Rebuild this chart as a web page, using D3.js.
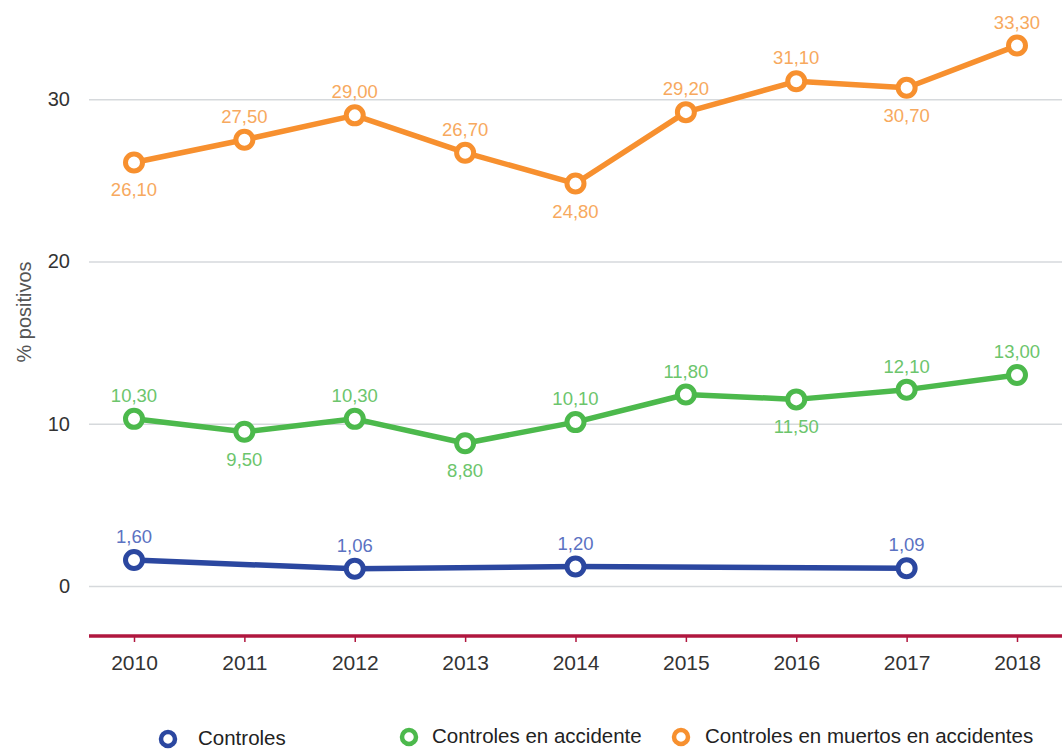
<!DOCTYPE html>
<html>
<head>
<meta charset="utf-8">
<script src="https://cdn.jsdelivr.net/npm/d3@7"></script>
<style>
  body { margin: 0; background: #fff; }
  svg { font-family: "Liberation Sans", Arial, sans-serif; }
  .grid line { stroke: #d6d9dc; stroke-width: 1.5; }
  .grid .domain { display: none; }
  .y-axis text { fill: #333; font-size: 20px; }
  .x-axis text { fill: #333; font-size: 21px; }
  .x-axis .domain { stroke: #b0173f; stroke-width: 3.5; }
  .x-axis .tick line { stroke: #b0173f; stroke-width: 1.5; }
</style>
</head>
<body>
<div id="chart-area"></div>
<script>
// data
var years = [2010, 2011, 2012, 2013, 2014, 2015, 2016, 2017, 2018];
var controlesYears = [2010, 2012, 2014, 2017];
var controles = [1.60, 1.06, 1.20, 1.09];
var accidente = [10.30, 9.50, 10.30, 8.80, 10.10, 11.80, 11.50, 12.10, 13.00];
var muertos = [26.10, 27.50, 29.00, 26.70, 24.80, 29.20, 31.10, 30.70, 33.30];
// label placement: 1 = above, -1 = below
var controlesPos = [1, 1, 1, 1];
var accidentePos = [1, -1, 1, -1, 1, 1, -1, 1, 1];
var muertosPos = [-1, 1, 1, 1, -1, 1, 1, -1, 1];
var yTicks = [0, 10, 20, 30];

var width = 1062, height = 749;
var margin = {top: 18, right: 0, bottom: 113, left: 89};

var svg = d3.select("#chart-area").append("svg")
    .attr("width", width)
    .attr("height", height);

var xScale = d3.scaleLinear()
    .domain([2010, 2018])
    .range([134, 1017]);

var yScale = d3.scaleLinear()
    .domain([-3.08, 35])
    .range([636, 18]);

// gridlines
svg.append("g").attr("class", "grid")
    .attr("transform", "translate(" + margin.left + ",0)")
    .call(d3.axisLeft(yScale).tickValues(yTicks).tickSize(-(width - margin.left)).tickFormat(""));

// y labels
var yAxisGroup = svg.append("g").attr("class", "y-axis")
    .attr("transform", "translate(" + margin.left + ",0)")
    .call(d3.axisLeft(yScale).tickValues(yTicks).tickSize(0).tickPadding(19));
yAxisGroup.select(".domain").remove();

svg.append("text")
    .attr("transform", "translate(31," + 312 + ") rotate(-90)")
    .attr("text-anchor", "middle")
    .style("font-size", "20px")
    .style("fill", "#555")
    .text("% positivos");

// x axis
var xAxis = d3.axisBottom(xScale)
    .tickValues(years)
    .tickFormat(d3.format("d"))
    .tickSize(6)
    .tickSizeOuter(0)
    .tickPadding(13);

var xAxisGroup = svg.append("g").attr("class", "x-axis")
    .attr("transform", "translate(0," + yScale(-3.08) + ")")
    .call(xAxis);
xAxisGroup.select(".domain").attr("d", "M" + margin.left + ",0H" + width);

var lineGenerator = d3.line()
    .x(d => xScale(d.year))
    .y(d => yScale(d.value));

var fmt = v => d3.format(".2f")(v).replace(".", ",");

var series = [
  {name: "Controles", years: controlesYears, values: controles, pos: controlesPos, color: "#2b47a0", label: "#5b72c2"},
  {name: "Controles en accidente", years: years, values: accidente, pos: accidentePos, color: "#4cb94c", label: "#6cc56c"},
  {name: "Controles en muertos en accidentes", years: years, values: muertos, pos: muertosPos, color: "#f7902f", label: "#f7a95e"}
];

series.forEach(function(s) {
  var pts = s.years.map((y, i) => ({year: y, value: s.values[i], pos: s.pos[i]}));
  var g = svg.append("g");
  g.append("path")
      .datum(pts)
      .attr("fill", "none")
      .attr("stroke", s.color)
      .attr("stroke-width", 5.5)
      .attr("stroke-linejoin", "round")
      .attr("d", lineGenerator);
  g.selectAll("circle")
      .data(pts)
      .enter().append("circle")
      .attr("cx", d => xScale(d.year))
      .attr("cy", d => yScale(d.value))
      .attr("r", 8.5)
      .attr("fill", "#fff")
      .attr("stroke", s.color)
      .attr("stroke-width", 5);
  g.selectAll("text")
      .data(pts)
      .enter().append("text")
      .attr("x", d => xScale(d.year))
      .attr("y", d => yScale(d.value) + (d.pos > 0 ? -17 : 34))
      .attr("text-anchor", "middle")
      .style("font-size", "18.5px")
      .style("fill", s.label)
      .text(d => fmt(d.value));
});

// legend
var legendItems = [
  {i: 0, cx: 168, cy: 739, tx: 198, ty: 745},
  {i: 1, cx: 409, cy: 737, tx: 432, ty: 743},
  {i: 2, cx: 681, cy: 737, tx: 705, ty: 743}
];
var legend = svg.append("g").attr("class", "legend");
legendItems.forEach(function(l) {
  var s = series[l.i];
  legend.append("circle")
      .attr("cx", l.cx)
      .attr("cy", l.cy)
      .attr("r", 7)
      .attr("fill", "#fff")
      .attr("stroke", s.color)
      .attr("stroke-width", 4.5);
  legend.append("text")
      .attr("x", l.tx)
      .attr("y", l.ty)
      .style("font-size", "20.5px")
      .style("fill", "#222")
      .text(s.name);
});
</script>
</body>
</html>
